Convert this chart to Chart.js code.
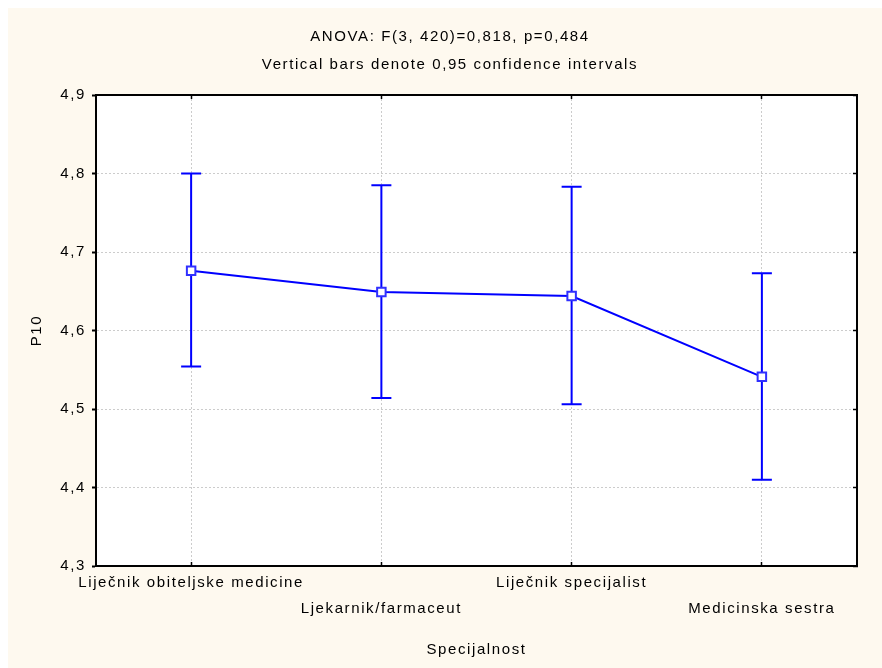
<!DOCTYPE html>
<html>
<head>
<meta charset="utf-8">
<script src="https://cdn.jsdelivr.net/npm/chart.js@4/dist/chart.umd.min.js"></script>
<style>
  html, body { margin: 0; padding: 0; background: #ffffff; }
  #wrap {
    position: absolute; left: 8px; top: 8px;
    width: 874px; height: 660px;
    background: #fef9ef;
  }
</style>
</head>
<body>
<div id="wrap"><canvas id="chart"></canvas></div>
<script>
// data
const categories = [
  'Liječnik obiteljske medicine',
  'Ljekarnik/farmaceut',
  'Liječnik specijalist',
  'Medicinska sestra',
];
const means = [4.676, 4.649, 4.644, 4.541];
const lowerCI = [4.554, 4.514, 4.506, 4.41];
const upperCI = [4.8, 4.785, 4.783, 4.673];
const yTickLabels = ['4,3', '4,4', '4,5', '4,6', '4,7', '4,8', '4,9'];

const BLUE = '#0000ff';
const FONT = "'Liberation Sans', Arial, sans-serif";

// white plot area + confidence interval whiskers
const plotPlugin = {
  id: 'plotPlugin',
  beforeDraw(chart) {
    const { ctx, chartArea: a } = chart;
    // the original text is set a little wider than plain Arial
    ctx.letterSpacing = '1.6px';
    ctx.save();
    ctx.fillStyle = '#ffffff';
    ctx.fillRect(a.left, a.top, a.right - a.left, a.bottom - a.top);
    ctx.restore();
  },
  beforeDatasetsDraw(chart) {
    const { ctx, scales } = chart;
    const xs = scales.x;
    const ys = scales.y;
    ctx.save();
    ctx.strokeStyle = BLUE;
    ctx.lineWidth = 2;
    categories.forEach((c, i) => {
      const x = xs.getPixelForValue(i);
      const yLo = ys.getPixelForValue(lowerCI[i]);
      const yHi = ys.getPixelForValue(upperCI[i]);
      ctx.beginPath();
      ctx.moveTo(x, yLo);
      ctx.lineTo(x, yHi);
      ctx.moveTo(x - 10, yLo);
      ctx.lineTo(x + 10, yLo);
      ctx.moveTo(x - 10, yHi);
      ctx.lineTo(x + 10, yHi);
      ctx.stroke();
    });
    ctx.restore();
  },
};

Chart.defaults.font.family = FONT;
Chart.defaults.font.size = 15;
Chart.defaults.color = '#000000';

// small inward tick marks on the frame
const inwardTicks = {
  drawOnChartArea: false,
  drawTicks: true,
  tickLength: -4,
  tickColor: '#000000',
  tickWidth: 1.5,
};

new Chart(document.getElementById('chart'), {
  type: 'line',
  data: {
    labels: categories,
    datasets: [
      {
        label: 'P10',
        data: means,
        borderColor: BLUE,
        borderWidth: 2,
        tension: 0,
        pointStyle: 'rect',
        pointRadius: 6,
        pointBorderWidth: 2,
        pointBackgroundColor: '#ffffff',
        pointBorderColor: '#3030ff',
      },
    ],
  },
  plugins: [plotPlugin],
  options: {
    responsive: true,
    maintainAspectRatio: false,
    animation: false,
    layout: { padding: { left: 10, right: 0, top: 0, bottom: 0 } },
    plugins: {
      legend: { display: false },
      tooltip: { enabled: false },
      title: {
        display: true,
        text: 'ANOVA: F(3, 420)=0,818, p=0,484',
        font: { size: 15, weight: 'normal' },
        padding: { top: 20, bottom: 10 },
      },
      subtitle: {
        display: true,
        text: 'Vertical bars denote 0,95 confidence intervals',
        color: '#000000',
        font: { size: 15 },
        padding: { top: 0, bottom: 21 },
      },
    },
    scales: {
      x: {
        type: 'category',
        offset: true,
        border: { color: '#000000', width: 2, dash: [2, 2] },
        grid: {
          color: '#cccccc',
          offset: false,
          drawTicks: true,
          tickLength: -4,
          tickColor: '#000000',
          tickBorderDash: [],
          tickWidth: 1.5,
        },
        ticks: {
          autoSkip: false,
          maxRotation: 0,
          padding: 8,
          font: { size: 15, lineHeight: 1.73 },
          callback: (v, i) => (i % 2 ? ['', categories[i]] : categories[i]),
        },
        title: {
          display: true,
          text: 'Specijalnost',
          padding: { top: 0, bottom: 9 },
        },
        afterFit: (s) => { s.height = 102; },
      },
      xTop: {
        type: 'category',
        position: 'top',
        offset: true,
        border: { color: '#000000', width: 2 },
        grid: inwardTicks,
        ticks: { display: false },
        afterFit: (s) => { s.height = 0; },
      },
      y: {
        min: 4.3,
        max: 4.9,
        border: { color: '#000000', width: 2, dash: [2, 2] },
        grid: {
          color: '#cccccc',
          tickLength: 4,
          tickColor: '#000000',
          tickBorderDash: [],
          tickWidth: 2,
        },
        ticks: {
          stepSize: 0.1,
          padding: 6,
          callback: (v, i) => yTickLabels[i],
        },
        title: {
          display: true,
          text: 'P10',
          padding: { top: 10, bottom: 0 },
        },
        afterFit: (s) => { s.width = 78; },
      },
      yRight: {
        position: 'right',
        min: 4.3,
        max: 4.9,
        border: { color: '#000000', width: 2 },
        grid: inwardTicks,
        ticks: { display: false, stepSize: 0.1 },
        afterFit: (s) => { s.width = 25; },
      },
    },
  },
});
</script>
</body>
</html>
